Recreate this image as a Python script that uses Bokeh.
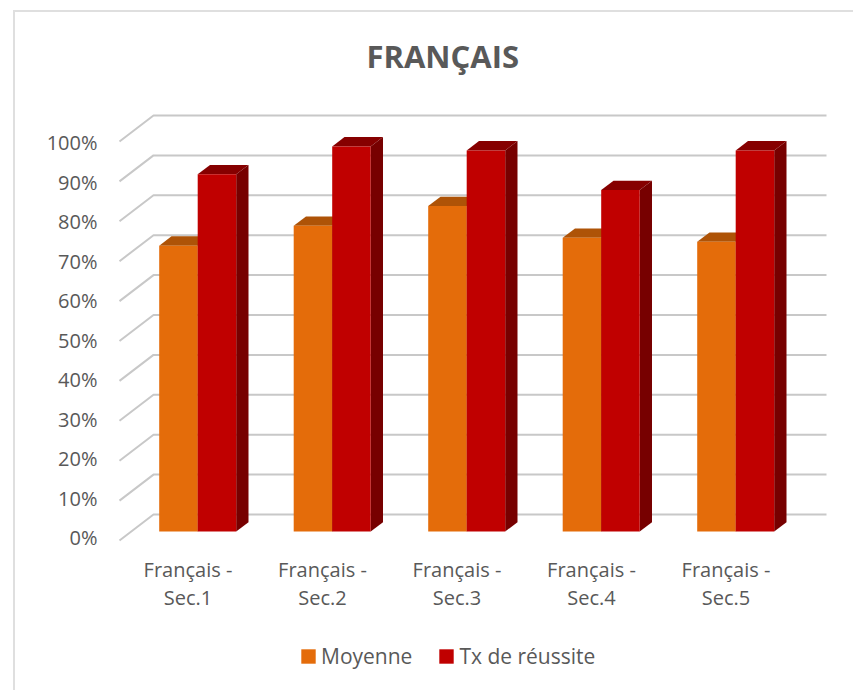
from bokeh.plotting import figure
from bokeh.embed import file_html
from bokeh.resources import INLINE
from bokeh.models import (Range1d, LinearAxis, FixedTicker, Title, Legend, LegendItem,
                          CustomJSTickFormatter)

categories = ["Français -\nSec.1", "Français -\nSec.2", "Français -\nSec.3",
              "Français -\nSec.4", "Français -\nSec.5"]
moyenne = [72, 77, 82, 74, 73]
reussite = [90, 97, 96, 86, 96]
pct_ticks = [0, 10, 20, 30, 40, 50, 60, 70, 80, 90, 100]
series_names = ["Moyenne", "Tx de réussite"]
title_text = "FRANÇAIS"

TEXT = "#595959"
FONT = "Open Sans"
GRID = "#c8c8c8"
ORANGE = ("#e46c0a", "#ae5307", "#8f4406")
RED = ("#c00000", "#860000", "#770000")

# geometry in screen px
W, H = 838, 678          # canvas size; canvas origin below
OX, OY = 15, 12
S_L, S_R, S_T, S_B = 117, 830, 88, 685
BASE_X, PITCH, BASE_Y, PX_PCT = 197.2, 134.5, 531.0, 3.97
AXIS_Y = 545             # where the category axis sits (the frame runs on below it)

x0 = (S_L - BASE_X) / PITCH
x1 = (S_R - BASE_X) / PITCH
y0 = (BASE_Y - S_B) / PX_PCT
y1 = (BASE_Y - S_T) / PX_PCT

p = figure(width=W, height=H, output_backend="svg", toolbar_location=None,
           x_range=Range1d(x0, x1), y_range=Range1d(y0, y1),
           x_axis_location=None, y_axis_location=None,
           frame_width=S_R - S_L, frame_height=S_B - S_T,
           min_border_left=S_L - OX, min_border_right=W - (S_R - OX),
           min_border_top=S_T - OY, min_border_bottom=H - (S_B - OY),
           border_fill_color="white", background_fill_color=None,
           outline_line_color=None, margin=(10, 0, 0, 13))
p.grid.visible = False
p.styles = {"border-top": "2px solid #dfdfdf", "border-left": "2px solid #dfdfdf"}

# tick labels sit slightly off the bar plane, as in the perspective drawing
p.extra_y_ranges = {"labels": Range1d((537.0 - S_B) / 3.95, (537.0 - S_T) / 3.95)}
p.extra_x_ranges = {"labels": Range1d((S_L - 187.5) / PITCH, (S_R - 187.5) / PITCH)}

yaxis = LinearAxis(y_range_name="labels", ticker=FixedTicker(ticks=pct_ticks),
                   formatter=CustomJSTickFormatter(code="return tick + '%';"),
                   axis_line_color=None, major_tick_line_color=None, minor_tick_line_color=None,
                   major_tick_in=0, major_tick_out=0, major_label_standoff=20,
                   major_label_text_color=TEXT, major_label_text_font=FONT,
                   major_label_text_font_size="20px")
p.add_layout(yaxis, "left")

xaxis = LinearAxis(x_range_name="labels", ticker=FixedTicker(ticks=list(range(len(categories)))),
                   major_label_overrides={i: c for i, c in enumerate(categories)},
                   fixed_location=(BASE_Y - AXIS_Y) / PX_PCT,
                   axis_line_color=None, major_tick_line_color=None, minor_tick_line_color=None,
                   major_tick_in=0, major_tick_out=0, major_label_standoff=10,
                   major_label_text_color=TEXT, major_label_text_font=FONT,
                   major_label_text_font_size="20px", major_label_text_line_height=1.05)
p.add_layout(xaxis, "below")

# perspective offsets (px converted to data units)
FLOOR_DX, FLOOR_DY = 34 / PITCH, 26 / PX_PCT
BACK_Y = 17 / PX_PCT      # back wall rises above the bar plane
GRID_K = 3.99 / PX_PCT    # the wall is drawn a touch taller than the bars
bar_w = 38.5 / PITCH
dx, dy = 12.3 / PITCH, 9.3 / PX_PCT
wall_l = (153 - BASE_X) / PITCH
wall_r = (826 - BASE_X) / PITCH

p.multi_line(xs=[[wall_l - FLOOR_DX, wall_l, wall_r] for _ in pct_ticks],
             ys=[[t * GRID_K + BACK_Y - FLOOR_DY, t * GRID_K + BACK_Y, t * GRID_K + BACK_Y]
                 for t in pct_ticks],
             line_color=GRID, line_width=2)


def draw(values, left_off, colours):
    lefts = [i + left_off for i in range(len(values))]
    rights = [l + bar_w for l in lefts]
    top_x = [[l, l + dx, r + dx, r] for l, r in zip(lefts, rights)]
    top_y = [[v, v + dy, v + dy, v] for v in values]
    side_x = [[r, r + dx, r + dx, r] for r in rights]
    side_y = [[0, dy, v + dy, v] for v in values]
    p.patches(top_x, top_y, fill_color=colours[1], line_color=None)
    p.patches(side_x, side_y, fill_color=colours[2], line_color=None)
    return p.quad(left=lefts, right=rights, bottom=[0] * len(values), top=values,
                  fill_color=colours[0], line_color=None)


r_m = draw(moyenne, -bar_w, ORANGE)
r_r = draw(reussite, 0, RED)

legend = Legend(items=[LegendItem(label=series_names[0], renderers=[r_m]),
                       LegendItem(label=series_names[1], renderers=[r_r])],
                orientation="horizontal", location=(182, 15), margin=0, padding=0,
                spacing=25, label_standoff=4, glyph_width=18, glyph_height=18,
                border_line_color=None, background_fill_color=None,
                label_text_color=TEXT, label_text_font=FONT, label_text_font_size="21px")
p.add_layout(legend, "center")

p.title = Title(text=title_text, align="left", offset=249, standoff=23,
                text_color=TEXT, text_font=FONT, text_font_size="31px", text_font_style="bold")

open("out.html", "w").write(file_html(p, INLINE))
